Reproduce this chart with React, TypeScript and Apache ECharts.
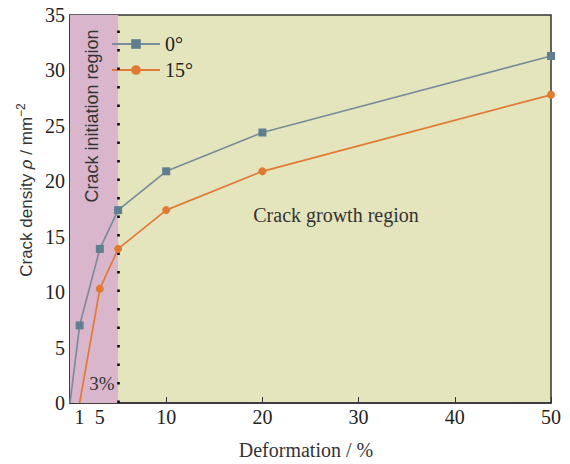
import React, { useEffect, useRef } from "react";
import * as echarts from "echarts";

const xBlue = [0, 1, 3.1, 5, 10, 20, 50];
const yBlue = [0, 7.0, 13.9, 17.4, 20.9, 24.4, 31.3];
const xOrange = [1, 3.1, 5, 10, 20, 50];
const yOrange = [0, 10.3, 13.9, 17.4, 20.9, 27.8];
const xTickValues = [1, 3.1, 10, 20, 30, 40, 50];
const xTickLabels = ["1", "5", "10", "20", "30", "40", "50"];
const initiationEnd = 5;
const seriesNames = ["0°", "15°"];

const SERIF = "Liberation Serif";
const SANS = "Liberation Sans";

export default function App() {
  const ref = useRef<HTMLDivElement>(null);
  useEffect(() => {
    document.body.style.margin = "0";
    const chart = echarts.init(ref.current!, null, { renderer: "svg" });
    const toData = (xs: number[], ys: number[]) =>
      xs.map((x, i) =>
        i === 0 && ys[i] === 0 ? { value: [x, ys[i]], symbol: "none" } : { value: [x, ys[i]] }
      );
    const labelFor = (v: number) => {
      const idx = xTickValues.findIndex((t) => Math.abs(t - v) < 1e-6);
      return idx >= 0 ? xTickLabels[idx] : "";
    };
    chart.setOption({
      animation: false,
      grid: {
        left: 70,
        right: 19,
        top: 15,
        bottom: 61,
        show: true,
        backgroundColor: "#e4e4bd",
        borderColor: "#333",
        borderWidth: 1.5,
      },
      legend: {
        orient: "vertical",
        left: 106,
        top: 29,
        itemWidth: 48,
        itemHeight: 12,
        itemGap: 6,
        textStyle: { fontFamily: SERIF, fontSize: 20, color: "#222" },
        data: seriesNames,
      },
      xAxis: {
        type: "value",
        min: 0,
        max: 50,
        axisLine: { show: true, lineStyle: { color: "#333", width: 1.5 } },
        axisTick: {
          show: true,
          inside: true,
          length: 6,
          customValues: xTickValues,
          lineStyle: { color: "#333" },
        },
        axisLabel: {
          customValues: xTickValues,
          formatter: (v: number) => labelFor(v),
          fontFamily: SERIF,
          fontSize: 20,
          color: "#222",
          margin: 4,
        },
        splitLine: { show: false },
      },
      yAxis: {
        type: "value",
        min: 0,
        max: 35,
        interval: 5,
        axisLine: { show: true, lineStyle: { color: "#333", width: 1.5 } },
        axisTick: { show: true, inside: true, length: 6, lineStyle: { color: "#333" } },
        axisLabel: { fontFamily: SERIF, fontSize: 20, color: "#222", margin: 5 },
        splitLine: { show: false },
      },
      series: [
        {
          name: seriesNames[0],
          type: "line",
          data: toData(xBlue, yBlue),
          symbol: "rect",
          symbolSize: 8,
          lineStyle: { color: "#7b8c9a", width: 1.7 },
          itemStyle: { color: "#5f7f90" },
          z: 5,
          markArea: {
            silent: true,
            itemStyle: { color: "#d9b6cb", opacity: 1 },
            data: [[{ xAxis: 0 }, { xAxis: initiationEnd }]],
          },
          markLine: {
            silent: true,
            symbol: "none",
            label: { show: false },
            lineStyle: { color: "#000", width: 2.5, type: [2.5, 16] },
            data: [{ xAxis: initiationEnd }],
          },
        },
        {
          name: seriesNames[1],
          type: "line",
          data: toData(xOrange, yOrange),
          symbol: "circle",
          symbolSize: 8,
          lineStyle: { color: "#e07b35", width: 1.7 },
          itemStyle: { color: "#e07b35" },
          z: 5,
        },
      ],
      graphic: [
        {
          type: "text",
          x: 26,
          y: 190,
          z: 100,
          rotation: Math.PI / 2,
          style: {
            text: "Crack density {i|ρ} / mm{sup|−2}",
            fontFamily: SANS,
            fontSize: 17,
            fill: "#333",
            align: "center",
            verticalAlign: "middle",
            rich: {
              i: { fontFamily: SANS, fontStyle: "italic", fontSize: 17, fill: "#333" },
              sup: { fontFamily: SANS, fontSize: 12, fill: "#333", verticalAlign: "top", padding: [0, 0, 10, 0] },
            },
          },
        },
        {
          type: "text",
          x: 306,
          y: 450,
          z: 100,
          style: {
            text: "Deformation / %",
            fontFamily: SERIF,
            fontSize: 20,
            fill: "#333",
            align: "center",
            verticalAlign: "middle",
          },
        },
        {
          type: "text",
          x: 92,
          y: 116,
          z: 100,
          rotation: Math.PI / 2,
          style: {
            text: "Crack initiation region",
            fontFamily: SANS,
            fontSize: 18,
            fill: "#333",
            align: "center",
            verticalAlign: "middle",
          },
        },
        {
          type: "text",
          x: 102,
          y: 383,
          z: 100,
          style: {
            text: "3%",
            fontFamily: SERIF,
            fontSize: 19,
            fill: "#333",
            align: "center",
            verticalAlign: "middle",
          },
        },
        {
          type: "text",
          x: 336,
          y: 215,
          z: 100,
          style: {
            text: "Crack growth region",
            fontFamily: SERIF,
            fontSize: 20,
            fill: "#333",
            align: "center",
            verticalAlign: "middle",
          },
        },
      ],
    });
    return () => chart.dispose();
  }, []);
  return <div ref={ref} style={{ width: 570, height: 464 }} />;
}
